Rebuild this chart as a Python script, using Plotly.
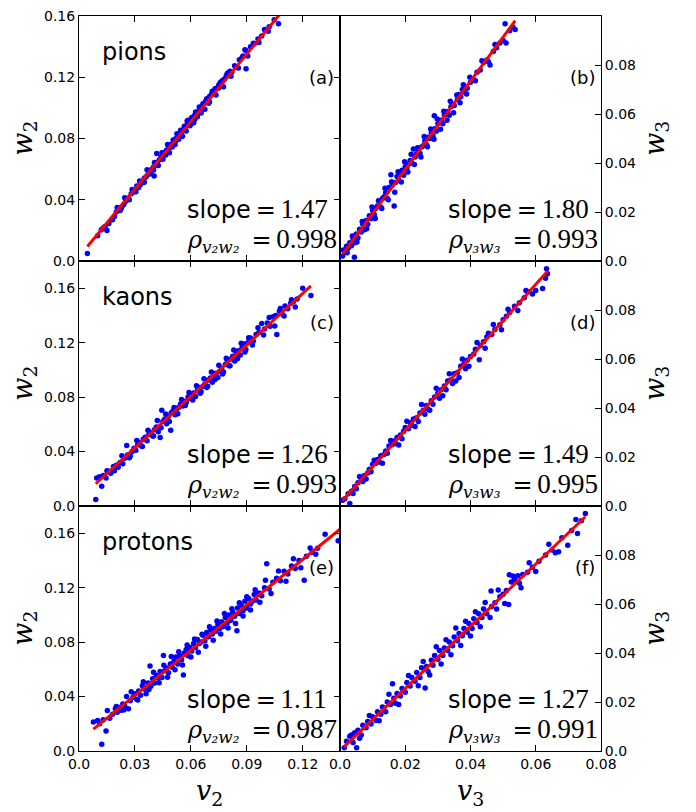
import plotly.graph_objects as go

# ---------------- data ----------------
pions_v2_w2 = [
    (0.0045, 0.0049), (0.010, 0.0165), (0.012, 0.0205), (0.013, 0.0215), (0.014, 0.0225),
    (0.015, 0.020), (0.016, 0.0245), (0.018, 0.027), (0.019, 0.029), (0.020, 0.032),
    (0.021, 0.0335), (0.022, 0.033), (0.023, 0.0355), (0.024, 0.037), (0.025, 0.039),
    (0.026, 0.041), (0.027, 0.040), (0.028, 0.044), (0.029, 0.045), (0.030, 0.046),
    (0.031, 0.049), (0.032, 0.048), (0.033, 0.050), (0.034, 0.052), (0.035, 0.054),
    (0.035, 0.0515), (0.036, 0.055), (0.037, 0.0565), (0.038, 0.058), (0.039, 0.060),
    (0.040, 0.0615), (0.040, 0.0595), (0.0403, 0.0556), (0.041, 0.064), (0.0417, 0.0703),
    (0.042, 0.0635), (0.043, 0.066), (0.044, 0.068), (0.045, 0.0685), (0.045, 0.0665),
    (0.046, 0.071), (0.047, 0.0725), (0.048, 0.073), (0.049, 0.076), (0.050, 0.0765),
    (0.050, 0.0745), (0.051, 0.078), (0.052, 0.080), (0.052, 0.0785), (0.053, 0.0815),
    (0.054, 0.0835), (0.055, 0.084), (0.055, 0.0815), (0.056, 0.086), (0.057, 0.0875),
    (0.058, 0.089), (0.058, 0.0915), (0.059, 0.090), (0.060, 0.0925), (0.060, 0.0895),
    (0.061, 0.0935), (0.062, 0.095), (0.062, 0.0925), (0.063, 0.097), (0.064, 0.0975),
    (0.065, 0.100), (0.065, 0.0975), (0.066, 0.101), (0.067, 0.103), (0.068, 0.1045),
    (0.069, 0.105), (0.070, 0.1075), (0.070, 0.104), (0.071, 0.109), (0.072, 0.110),
    (0.073, 0.1125), (0.074, 0.113), (0.075, 0.115), (0.075, 0.113), (0.076, 0.117),
    (0.077, 0.118), (0.078, 0.119), (0.079, 0.121), (0.080, 0.123), (0.081, 0.124),
    (0.082, 0.1235), (0.084, 0.127), (0.086, 0.1315), (0.088, 0.134), (0.089, 0.138),
    (0.0896, 0.1257), (0.092, 0.140), (0.094, 0.142), (0.096, 0.145), (0.098, 0.147),
    (0.100, 0.151), (0.102, 0.153), (0.1047, 0.1576), (0.107, 0.155),
]
pions_v2_w2_band = [
    (0.0205, 0.0350), (0.0225, 0.0340), (0.0245, 0.0414), (0.0265, 0.0404), (0.0285, 0.0468),
    (0.0305, 0.0452), (0.0325, 0.0522), (0.0345, 0.0516), (0.0365, 0.0596), (0.0385, 0.0570),
    (0.0405, 0.0644), (0.0425, 0.0624), (0.0445, 0.0708), (0.0465, 0.0693), (0.0475, 0.0762),
    (0.0485, 0.0707), (0.0505, 0.0791), (0.0515, 0.0761), (0.0525, 0.0831), (0.0535, 0.0795),
    (0.0545, 0.0855), (0.0555, 0.0815), (0.0565, 0.0880), (0.0575, 0.0849), (0.0585, 0.0919),
    (0.0595, 0.0884), (0.0605, 0.0938), (0.0615, 0.0903), (0.0625, 0.0973), (0.0635, 0.0942),
    (0.0645, 0.1007), (0.0655, 0.0967), (0.0665, 0.1027), (0.0675, 0.0991), (0.0685, 0.1061),
    (0.0695, 0.1031), (0.0715, 0.1110), (0.0735, 0.1084), (0.0755, 0.1159), (0.0775, 0.1138),
    (0.0795, 0.1223), (0.0815, 0.1207), (0.0835, 0.1276), (0.0855, 0.1261), (0.0875, 0.1330),
    (0.0895, 0.1375), (0.0905, 0.1339), (0.0935, 0.1423), (0.0965, 0.1428), (0.0995, 0.1512),
    (0.1015, 0.1501),
]
pions_v3_w3 = [
    (0.0008, 0.0020), (0.0010, 0.0045), (0.0015, 0.0035), (0.0020, 0.0060), (0.0025, 0.0052),
    (0.0030, 0.0075), (0.0035, 0.0062), (0.0040, 0.0090), (0.0044, 0.0015), (0.0045, 0.0075),
    (0.0050, 0.0110), (0.0055, 0.0095), (0.0060, 0.0130), (0.0065, 0.0118), (0.0070, 0.0150),
    (0.0075, 0.0128), (0.0080, 0.0165), (0.0085, 0.0150), (0.0090, 0.0185), (0.0095, 0.0172),
    (0.0100, 0.0205), (0.0105, 0.0190), (0.0110, 0.0215), (0.0115, 0.0225), (0.0120, 0.0245),
    (0.0125, 0.0220), (0.0130, 0.0255), (0.0135, 0.0262), (0.0140, 0.0280), (0.0145, 0.0255),
    (0.0150, 0.0300), (0.0156, 0.0352), (0.0160, 0.0310), (0.0166, 0.0225), (0.0170, 0.0320),
    (0.0175, 0.0345), (0.0180, 0.0330), (0.0185, 0.0355), (0.0190, 0.0370), (0.0195, 0.0350),
    (0.0200, 0.0385), (0.0205, 0.0380), (0.0210, 0.0395), (0.0215, 0.0410), (0.0220, 0.0400),
    (0.0225, 0.0457), (0.0230, 0.0425), (0.0235, 0.0438), (0.0240, 0.0455), (0.0245, 0.0440),
    (0.0250, 0.0465), (0.0255, 0.0470), (0.0260, 0.0490), (0.0265, 0.0475), (0.0270, 0.0505),
    (0.0275, 0.0500), (0.0280, 0.0525), (0.0285, 0.0510), (0.0289, 0.0593), (0.0290, 0.0540),
    (0.0295, 0.0530), (0.0300, 0.0560), (0.0305, 0.0565), (0.0310, 0.0575), (0.0315, 0.0560),
    (0.0320, 0.0595), (0.0325, 0.0600), (0.0330, 0.0610), (0.0335, 0.0595), (0.0340, 0.0630),
    (0.0345, 0.0640), (0.0350, 0.0635), (0.0360, 0.0660), (0.0365, 0.0680), (0.0370, 0.0670),
    (0.0375, 0.0700), (0.0380, 0.0690), (0.0390, 0.0705), (0.0400, 0.0730), (0.0410, 0.0740),
    (0.0420, 0.0770), (0.0430, 0.0780), (0.0440, 0.0810), (0.0450, 0.0820), (0.0460, 0.0800),
    (0.0470, 0.0855), (0.0480, 0.0870), (0.0490, 0.0890), (0.0500, 0.0900), (0.0506, 0.0968),
    (0.0509, 0.0890), (0.0520, 0.0940), (0.0530, 0.0955), (0.0537, 0.0945),
]
pions_v3_w3_band = [
    (0.0022, 0.0034), (0.0038, 0.0102), (0.0052, 0.0078), (0.0068, 0.0161), (0.0082, 0.0132),
    (0.0098, 0.0220), (0.0108, 0.0173), (0.0118, 0.0246), (0.0128, 0.0214), (0.0138, 0.0297),
    (0.0148, 0.0250), (0.0158, 0.0323), (0.0168, 0.0281), (0.0178, 0.0364), (0.0188, 0.0322),
    (0.0198, 0.0405), (0.0208, 0.0363), (0.0218, 0.0436), (0.0228, 0.0394), (0.0238, 0.0462),
    (0.0248, 0.0425), (0.0258, 0.0508), (0.0268, 0.0466), (0.0278, 0.0539), (0.0288, 0.0497),
    (0.0298, 0.0580), (0.0308, 0.0538), (0.0318, 0.0611), (0.0328, 0.0574), (0.0338, 0.0652),
    (0.0348, 0.0605), (0.0358, 0.0678), (0.0368, 0.0646), (0.0378, 0.0719), (0.0388, 0.0682),
    (0.0398, 0.0750), (0.0415, 0.0736), (0.0435, 0.0817), (0.0455, 0.0813), (0.0475, 0.0884),
]
kaons_v2_w2 = [
    (0.0090, 0.0048), (0.0095, 0.0205), (0.0110, 0.0215), (0.0122, 0.0145), (0.0130, 0.0225),
    (0.0145, 0.0205), (0.0160, 0.0255), (0.0170, 0.0240), (0.0185, 0.0290), (0.0200, 0.0300),
    (0.0210, 0.0285), (0.0220, 0.0320), (0.0235, 0.0310), (0.0245, 0.0350), (0.0256, 0.0444),
    (0.0260, 0.0375), (0.0270, 0.0355), (0.0285, 0.0400), (0.0295, 0.0425), (0.0305, 0.0410),
    (0.0315, 0.0450), (0.0325, 0.0465), (0.0335, 0.0440), (0.0345, 0.0490), (0.0355, 0.0505),
    (0.0365, 0.0480), (0.0375, 0.0525), (0.0385, 0.0540), (0.0395, 0.0515), (0.0405, 0.0560),
    (0.0415, 0.0580), (0.0425, 0.0545), (0.0435, 0.0504), (0.0444, 0.0703), (0.0450, 0.0620),
    (0.0460, 0.0640), (0.0470, 0.0605), (0.0480, 0.0660), (0.0492, 0.0557), (0.0495, 0.0685),
    (0.0505, 0.0700), (0.0515, 0.0670), (0.0525, 0.0715), (0.0535, 0.0725), (0.0545, 0.0750),
    (0.0555, 0.0735), (0.0565, 0.0770), (0.0575, 0.0760), (0.0585, 0.0800), (0.0595, 0.0790),
    (0.0605, 0.0815), (0.0615, 0.0830), (0.0625, 0.0805), (0.0635, 0.0850), (0.0645, 0.0870),
    (0.0655, 0.0840), (0.0665, 0.0880), (0.0675, 0.0895), (0.0685, 0.0870), (0.0695, 0.0925),
    (0.0705, 0.0940), (0.0715, 0.0910), (0.0725, 0.0960), (0.0735, 0.0975), (0.0745, 0.0945),
    (0.0755, 0.0990), (0.0765, 0.1010), (0.0775, 0.0985), (0.0785, 0.1040), (0.0795, 0.1070),
    (0.0805, 0.1030), (0.0815, 0.1080), (0.0825, 0.1100), (0.0835, 0.1065), (0.0845, 0.1120),
    (0.0855, 0.1140), (0.0865, 0.1110), (0.0875, 0.1165), (0.0885, 0.1190), (0.0895, 0.1150),
    (0.0905, 0.1200), (0.0920, 0.1235), (0.0935, 0.1210), (0.0950, 0.1260), (0.0965, 0.1275),
    (0.0980, 0.1340), (0.0995, 0.1300), (0.1010, 0.1345), (0.1025, 0.1320), (0.1040, 0.1390),
    (0.1055, 0.1400), (0.1061, 0.1260), (0.1075, 0.1430), (0.1090, 0.1410), (0.1105, 0.1470),
    (0.1120, 0.1450), (0.1135, 0.1490), (0.1150, 0.1500), (0.1170, 0.1520), (0.1200, 0.1600),
    (0.1244, 0.1546),
]
kaons_v2_w2_band = [
    (0.0150, 0.0259), (0.0190, 0.0259), (0.0230, 0.0370), (0.0275, 0.0367), (0.0310, 0.0481),
    (0.0340, 0.0438), (0.0370, 0.0556), (0.0400, 0.0514), (0.0420, 0.0629), (0.0440, 0.0574),
    (0.0465, 0.0676), (0.0485, 0.0621), (0.0510, 0.0723), (0.0530, 0.0678), (0.0550, 0.0783),
    (0.0570, 0.0738), (0.0590, 0.0833), (0.0610, 0.0779), (0.0630, 0.0884), (0.0650, 0.0829),
    (0.0670, 0.0934), (0.0690, 0.0879), (0.0710, 0.0985), (0.0730, 0.0930), (0.0750, 0.1035),
    (0.0770, 0.0970), (0.0790, 0.1085), (0.0810, 0.1031), (0.0830, 0.1146), (0.0850, 0.1081),
    (0.0870, 0.1196), (0.0890, 0.1131), (0.0910, 0.1237), (0.0930, 0.1182), (0.0960, 0.1310),
    (0.0990, 0.1257), (0.1020, 0.1385), (0.1050, 0.1323), (0.1080, 0.1451), (0.1100, 0.1396),
    (0.1140, 0.1516), (0.1160, 0.1462),
]
kaons_v3_w3 = [
    (0.0008, 0.0023), (0.0015, 0.0030), (0.0025, 0.0050), (0.0030, 0.0010), (0.0035, 0.0060),
    (0.0045, 0.0080), (0.0050, 0.0070), (0.0055, 0.0095), (0.0065, 0.0110), (0.0070, 0.0100),
    (0.0075, 0.0125), (0.0085, 0.0135), (0.0090, 0.0150), (0.0095, 0.0140), (0.0100, 0.0170),
    (0.0110, 0.0175), (0.0115, 0.0190), (0.0120, 0.0180), (0.0125, 0.0205), (0.0135, 0.0210),
    (0.0140, 0.0225), (0.0145, 0.0215), (0.0150, 0.0245), (0.0160, 0.0250), (0.0165, 0.0265),
    (0.0170, 0.0255), (0.0175, 0.0280), (0.0185, 0.0290), (0.0190, 0.0275), (0.0195, 0.0305),
    (0.0200, 0.0320), (0.0210, 0.0315), (0.0215, 0.0340), (0.0220, 0.0330), (0.0225, 0.0355),
    (0.0235, 0.0360), (0.0240, 0.0345), (0.0245, 0.0380), (0.0255, 0.0390), (0.0260, 0.0375),
    (0.0265, 0.0410), (0.0270, 0.0395), (0.0280, 0.0430), (0.0285, 0.0415), (0.0290, 0.0445),
    (0.0300, 0.0460), (0.0305, 0.0440), (0.0310, 0.0475), (0.0320, 0.0490), (0.0325, 0.0475),
    (0.0330, 0.0510), (0.0340, 0.0515), (0.0345, 0.0500), (0.0350, 0.0540), (0.0360, 0.0545),
    (0.0365, 0.0525), (0.0370, 0.0570), (0.0380, 0.0580), (0.0385, 0.0560), (0.0390, 0.0595),
    (0.0400, 0.0610), (0.0410, 0.0620), (0.0415, 0.0640), (0.0427, 0.0597), (0.0430, 0.0655),
    (0.0440, 0.0670), (0.0450, 0.0690), (0.0455, 0.0705), (0.0465, 0.0700), (0.0475, 0.0720),
    (0.0490, 0.0740), (0.0500, 0.0760), (0.0510, 0.0775), (0.0520, 0.0790), (0.0535, 0.0815),
    (0.0550, 0.0830), (0.0565, 0.0850), (0.0580, 0.0875), (0.0600, 0.0880), (0.0621, 0.0888),
    (0.0630, 0.0930), (0.0633, 0.0968), (0.0636, 0.0948),
]
kaons_v3_w3_band = [
    (0.0040, 0.0051), (0.0060, 0.0120), (0.0080, 0.0110), (0.0105, 0.0187), (0.0130, 0.0175),
    (0.0155, 0.0267), (0.0180, 0.0249), (0.0205, 0.0346), (0.0230, 0.0324), (0.0250, 0.0414),
    (0.0275, 0.0391), (0.0295, 0.0481), (0.0315, 0.0450), (0.0335, 0.0540), (0.0355, 0.0510),
    (0.0375, 0.0600), (0.0395, 0.0570), (0.0420, 0.0667), (0.0445, 0.0644), (0.0470, 0.0741),
    (0.0495, 0.0719), (0.0515, 0.0803), (0.0545, 0.0798), (0.0570, 0.0880), (0.0590, 0.0865),
]
protons_v2_w2 = [
    (0.0077, 0.0213), (0.0100, 0.0225), (0.0110, 0.0200), (0.0122, 0.0049), (0.0130, 0.0230),
    (0.0145, 0.0147), (0.0152, 0.0298), (0.0165, 0.0240), (0.0180, 0.0270), (0.0195, 0.0310),
    (0.0205, 0.0285), (0.0215, 0.0320), (0.0225, 0.0300), (0.0235, 0.0345), (0.0245, 0.0330),
    (0.0255, 0.0400), (0.0265, 0.0310), (0.0275, 0.0370), (0.0290, 0.0395), (0.0300, 0.0420),
    (0.0310, 0.0380), (0.0320, 0.0440), (0.0330, 0.0410), (0.0340, 0.0480), (0.0350, 0.0455),
    (0.0360, 0.0420), (0.0370, 0.0500), (0.0381, 0.0625), (0.0385, 0.0475), (0.0395, 0.0530),
    (0.0405, 0.0500), (0.0415, 0.0555), (0.0425, 0.0535), (0.0435, 0.0585), (0.0445, 0.0540),
    (0.0453, 0.0702), (0.0460, 0.0590), (0.0470, 0.0610), (0.0480, 0.0575), (0.0490, 0.0640),
    (0.0500, 0.0615), (0.0510, 0.0660), (0.0520, 0.0690), (0.0530, 0.0640), (0.0540, 0.0700),
    (0.0550, 0.0670), (0.0560, 0.0559), (0.0565, 0.0720), (0.0575, 0.0745), (0.0585, 0.0700),
    (0.0595, 0.0760), (0.0605, 0.0735), (0.0615, 0.0790), (0.0625, 0.0760), (0.0635, 0.0820),
    (0.0645, 0.0790), (0.0655, 0.0800), (0.0665, 0.0850), (0.0675, 0.0810), (0.0685, 0.0870),
    (0.0695, 0.0840), (0.0705, 0.0890), (0.0715, 0.0860), (0.0725, 0.0900), (0.0735, 0.0880),
    (0.0745, 0.0930), (0.0755, 0.0900), (0.0765, 0.0950), (0.0775, 0.0915), (0.0785, 0.0980),
    (0.0795, 0.0940), (0.0805, 0.1000), (0.0815, 0.0960), (0.0825, 0.1020), (0.0835, 0.0990),
    (0.0847, 0.0884), (0.0850, 0.1050), (0.0860, 0.1010), (0.0870, 0.1070), (0.0880, 0.1030),
    (0.0890, 0.1100), (0.0900, 0.1050), (0.0910, 0.1120), (0.0920, 0.1080), (0.0930, 0.1100),
    (0.0940, 0.1150), (0.0950, 0.1110), (0.0965, 0.1160), (0.0980, 0.1140), (0.0995, 0.1200),
    (0.1007, 0.1375), (0.1020, 0.1190), (0.1040, 0.1240), (0.1060, 0.1270), (0.1080, 0.1250),
    (0.1100, 0.1320), (0.1120, 0.1300), (0.1140, 0.1360), (0.1160, 0.1340), (0.1180, 0.1400),
    (0.1208, 0.1254), (0.1220, 0.1430), (0.1250, 0.1460), (0.1280, 0.1490), (0.1320, 0.1593),
    (0.1390, 0.1545),
]
protons_v2_w2_band = [
    (0.0200, 0.0327), (0.0240, 0.0301), (0.0280, 0.0436), (0.0315, 0.0375), (0.0345, 0.0508),
    (0.0375, 0.0451), (0.0400, 0.0579), (0.0430, 0.0502), (0.0455, 0.0630), (0.0475, 0.0542),
    (0.0495, 0.0694), (0.0515, 0.0597), (0.0535, 0.0729), (0.0555, 0.0631), (0.0580, 0.0779),
    (0.0600, 0.0691), (0.0620, 0.0823), (0.0640, 0.0725), (0.0660, 0.0858), (0.0680, 0.0770),
    (0.0700, 0.0912), (0.0720, 0.0814), (0.0740, 0.0956), (0.0760, 0.0859), (0.0780, 0.1011),
    (0.0800, 0.0903), (0.0820, 0.1045), (0.0840, 0.0937), (0.0860, 0.1090), (0.0880, 0.0992),
    (0.0900, 0.1134), (0.0920, 0.1036), (0.0945, 0.1184), (0.0970, 0.1092), (0.1000, 0.1255),
    (0.1030, 0.1158), (0.1070, 0.1323), (0.1110, 0.1247), (0.1150, 0.1412), (0.1190, 0.1346),
    (0.1240, 0.1491), (0.1270, 0.1445),
]
protons_v3_w3 = [
    (0.0013, 0.0013), (0.0020, 0.0040), (0.0030, 0.0060), (0.0040, 0.0035), (0.0045, 0.0075),
    (0.0051, 0.0013), (0.0055, 0.0085), (0.0065, 0.0065), (0.0070, 0.0105), (0.0080, 0.0095),
    (0.0085, 0.0120), (0.0095, 0.0110), (0.0100, 0.0140), (0.0110, 0.0125), (0.0115, 0.0160),
    (0.0125, 0.0150), (0.0130, 0.0180), (0.0140, 0.0160), (0.0145, 0.0200), (0.0155, 0.0190),
    (0.0161, 0.0275), (0.0165, 0.0215), (0.0170, 0.0195), (0.0175, 0.0235), (0.0185, 0.0225),
    (0.0190, 0.0255), (0.0200, 0.0240), (0.0205, 0.0280), (0.0215, 0.0265), (0.0220, 0.0300),
    (0.0230, 0.0285), (0.0235, 0.0320), (0.0245, 0.0300), (0.0250, 0.0340), (0.0261, 0.0257),
    (0.0265, 0.0345), (0.0270, 0.0325), (0.0280, 0.0370), (0.0285, 0.0350), (0.0290, 0.0390),
    (0.0300, 0.0375), (0.0305, 0.0410), (0.0315, 0.0390), (0.0320, 0.0420), (0.0330, 0.0410),
    (0.0335, 0.0445), (0.0345, 0.0430), (0.0350, 0.0465), (0.0360, 0.0450), (0.0365, 0.0480),
    (0.0375, 0.0470), (0.0380, 0.0500), (0.0390, 0.0485), (0.0395, 0.0520), (0.0405, 0.0500),
    (0.0410, 0.0540), (0.0420, 0.0525), (0.0425, 0.0560), (0.0435, 0.0545), (0.0440, 0.0580),
    (0.0450, 0.0560), (0.0463, 0.0653), (0.0465, 0.0590), (0.0475, 0.0605), (0.0480, 0.0580),
    (0.0490, 0.0630), (0.0500, 0.0640), (0.0510, 0.0655), (0.0517, 0.0598), (0.0519, 0.0719),
    (0.0525, 0.0690), (0.0535, 0.0700), (0.0545, 0.0715), (0.0550, 0.0685), (0.0560, 0.0720),
    (0.0575, 0.0730), (0.0590, 0.0750), (0.0610, 0.0775), (0.0630, 0.0800), (0.0650, 0.0820),
    (0.0670, 0.0813), (0.0680, 0.0870), (0.0698, 0.0840), (0.0710, 0.0900), (0.0723, 0.0945),
    (0.0728, 0.0888), (0.0740, 0.0940), (0.0752, 0.0969),
]
protons_v3_w3_band = [
    (0.0035, 0.0065), (0.0060, 0.0052), (0.0090, 0.0145), (0.0120, 0.0123), (0.0150, 0.0232),
    (0.0180, 0.0190), (0.0210, 0.0308), (0.0240, 0.0266), (0.0255, 0.0365), (0.0275, 0.0310),
    (0.0295, 0.0426), (0.0310, 0.0355), (0.0325, 0.0454), (0.0340, 0.0393), (0.0355, 0.0502),
    (0.0370, 0.0431), (0.0385, 0.0530), (0.0400, 0.0469), (0.0415, 0.0568), (0.0430, 0.0507),
    (0.0445, 0.0606), (0.0460, 0.0545), (0.0485, 0.0657), (0.0505, 0.0602), (0.0530, 0.0714),
    (0.0555, 0.0666), (0.0580, 0.0768), (0.0600, 0.0733), (0.0640, 0.0844), (0.0660, 0.0809),
]

species = ["pions", "kaons", "protons"]
panel_letters = ["(a)", "(b)", "(c)", "(d)", "(e)", "(f)"]
fit_slopes = [1.47, 1.80, 1.26, 1.49, 1.11, 1.27]
fit_intercepts = [0.0029, 0.0014, 0.0050, 0.0011, 0.0075, 0.0001]
fit_v_end = [0.108, 0.0537, 0.1244, 0.0636, 0.140, 0.0752]
corr_values = ["0.998", "0.993", "0.993", "0.995", "0.987", "0.991"]
slope_labels = ["1.47", "1.80", "1.26", "1.49", "1.11", "1.27"]

v2_ticks = [0.0, 0.03, 0.06, 0.09, 0.12]
v2_ticktext = ["0.0", "0.03", "0.06", "0.09", "0.12"]
v3_ticks = [0.0, 0.02, 0.04, 0.06, 0.08]
v3_ticktext = ["0.0", "0.02", "0.04", "0.06", "0.08"]
w2_ticks = [0.0, 0.04, 0.08, 0.12, 0.16]
w2_ticktext = ["0.0", "0.04", "0.08", "0.12", "0.16"]
w3_ticks = [0.0, 0.02, 0.04, 0.06, 0.08]
w3_ticktext = ["0.0", "0.02", "0.04", "0.06", "0.08"]

# ---------------- figure ----------------
panels_pts = [pions_v2_w2 + pions_v2_w2_band, pions_v3_w3 + pions_v3_w3_band,
              kaons_v2_w2 + kaons_v2_w2_band, kaons_v3_w3 + kaons_v3_w3_band,
              protons_v2_w2 + protons_v2_w2_band, protons_v3_w3 + protons_v3_w3_band]

SANS = "DejaVu Sans"
SERIF = "DejaVu Serif"
NUMF = "Liberation Serif"
fig = go.Figure()

for i, pts in enumerate(panels_pts):
    ax = "" if i == 0 else str(i + 1)
    xs = [p[0] for p in pts]
    ys = [p[1] for p in pts]
    fig.add_trace(go.Scatter(x=xs, y=ys, mode="markers", xaxis="x" + ax, yaxis="y" + ax,
                             marker=dict(color="#0000ff", size=5.5, line=dict(width=0)),
                             showlegend=False, hoverinfo="skip"))
    v0 = min(xs)
    v1 = fit_v_end[i]
    fig.add_trace(go.Scatter(x=[v0, v1],
                             y=[fit_slopes[i] * v0 + fit_intercepts[i], fit_slopes[i] * v1 + fit_intercepts[i]],
                             mode="lines", xaxis="x" + ax, yaxis="y" + ax,
                             line=dict(color="#ff0000", width=3), showlegend=False, hoverinfo="skip"))

row_domains = [[2 / 3, 1.0], [1 / 3, 2 / 3], [0.0, 1 / 3]]
col_domains = [[0.0, 0.5], [0.5, 1.0]]
tickfont = dict(family=SANS, size=14, color="black")
layout = {}
for i in range(6):
    r, c = divmod(i, 2)
    ax = "" if i == 0 else str(i + 1)
    bottom = (r == 2)
    if c == 0:
        xa = dict(range=[0, 0.14], tickvals=v2_ticks, ticktext=v2_ticktext)
        ya = dict(range=[0, 0.1601 if r == 0 else 0.18], tickvals=w2_ticks, ticktext=w2_ticktext,
                  side="left", mirror="ticks")
    else:
        xa = dict(range=[0, 0.08], tickvals=v3_ticks, ticktext=v3_ticktext)
        ya = dict(range=[0, 0.1], tickvals=w3_ticks, ticktext=w3_ticktext,
                  side="right", mirror=True)
    xa.update(domain=col_domains[c], anchor="y" + ax, showticklabels=bottom, ticks="inside",
              ticklen=6, tickcolor="black", showline=True, linecolor="black", linewidth=1,
              mirror="ticks", showgrid=False, zeroline=False, tickfont=tickfont, fixedrange=True)
    ya.update(domain=row_domains[r], anchor="x" + ax, ticks="inside", ticklen=6, tickcolor="black",
              showline=True, linecolor="black", linewidth=1, showgrid=False, zeroline=False,
              tickfont=tickfont, fixedrange=True)
    layout["xaxis" + ax] = xa
    layout["yaxis" + ax] = ya

annotations = []
for i in range(6):
    r, c = divmod(i, 2)
    ax = "" if i == 0 else str(i + 1)
    xd = "x" + ax + " domain"
    yd = "y" + ax + " domain"
    if c == 0:
        annotations.append(dict(text=species[r], xref=xd, yref=yd, x=0.08, y=0.855,
                                xanchor="left", yanchor="middle", showarrow=False,
                                font=dict(family=SANS, size=24, color="black")))
        sub = "v₂w₂"
    else:
        sub = "v₃w₃"
    annotations.append(dict(text=panel_letters[i], xref=xd, yref=yd, x=0.985, y=0.75,
                            xanchor="right", yanchor="middle", showarrow=False,
                            font=dict(family=SANS, size=18, color="black")))
    annotations.append(dict(
        text='<span style="font-family:DejaVu Sans">slope</span>\u2009=\u2009'
             '<span style="font-family:Liberation Serif;font-size:27px">' + slope_labels[i] + '</span>',
        xref=xd, yref=yd, x=0.405, y=0.212, xanchor="left", yanchor="middle",
        showarrow=False, font=dict(family=SERIF, size=24, color="black")))
    annotations.append(dict(
        text="<i>ρ</i><sub><i>" + sub + "</i></sub>\u2002=\u2009"
             '<span style="font-family:Liberation Serif;font-size:27px">' + corr_values[i] + '</span>',
        xref=xd, yref=yd, x=0.405, y=0.085, xanchor="left", yanchor="middle",
        showarrow=False, font=dict(family=SERIF, size=24, color="black")))

# axis titles
label_font = dict(family=SERIF, size=27, color="black")
for r, yc in enumerate([5 / 6, 0.5, 1 / 6]):
    annotations.append(dict(text="<i>w</i><sub>2</sub>", xref="paper", yref="paper", x=-0.105, y=yc,
                            xanchor="center", yanchor="middle", textangle=-90, showarrow=False,
                            font=label_font))
    annotations.append(dict(text="<i>w</i><sub>3</sub>", xref="paper", yref="paper", x=1.106, y=yc,
                            xanchor="center", yanchor="middle", textangle=-90, showarrow=False,
                            font=label_font))
annotations.append(dict(text="<i>v</i><sub>2</sub>", xref="paper", yref="paper", x=0.25, y=-0.057,
                        xanchor="center", yanchor="middle", showarrow=False, font=label_font))
annotations.append(dict(text="<i>v</i><sub>3</sub>", xref="paper", yref="paper", x=0.75, y=-0.057,
                        xanchor="center", yanchor="middle", showarrow=False, font=label_font))

fig.update_layout(
    width=696, height=812,
    margin=dict(l=79, r=94.5, t=8, b=61, pad=0),
    paper_bgcolor="white", plot_bgcolor="white",
    annotations=annotations,
    showlegend=False,
    **layout,
)

fig.write_html("out.html", config={"displayModeBar": False},
               post_script="document.body.style.margin='0';document.body.style.padding='0';")
